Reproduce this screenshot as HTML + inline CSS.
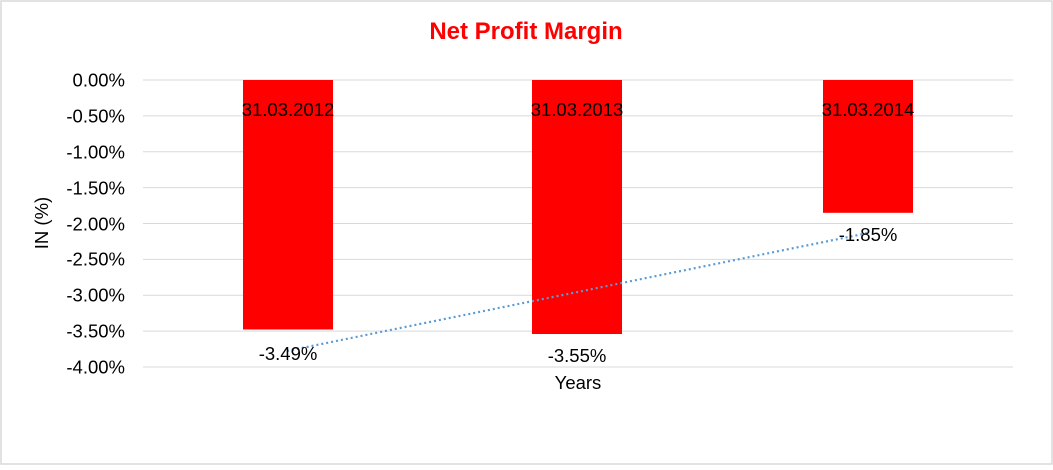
<!DOCTYPE html>
<html><head><style>
body{margin:0;background:#fff;}
svg text{font-family:"Liberation Sans",Arial,sans-serif;}
</style></head><body>
<svg width="1053" height="465" xmlns="http://www.w3.org/2000/svg">
<rect x="1" y="1" width="1051" height="463" fill="#fff" stroke="#d9d9d9" stroke-width="1.5"/>
<text x="526" y="39" text-anchor="middle" font-size="24" font-weight="bold" fill="#ff0000">Net Profit Margin</text>
<g stroke="#d9d9d9" stroke-width="1">
<line x1="143" x2="1013" y1="80" y2="80"/>
<line x1="143" x2="1013" y1="115.9" y2="115.9"/>
<line x1="143" x2="1013" y1="151.8" y2="151.8"/>
<line x1="143" x2="1013" y1="187.6" y2="187.6"/>
<line x1="143" x2="1013" y1="223.5" y2="223.5"/>
<line x1="143" x2="1013" y1="259.4" y2="259.4"/>
<line x1="143" x2="1013" y1="295.3" y2="295.3"/>
<line x1="143" x2="1013" y1="331.1" y2="331.1"/>
<line x1="143" x2="1013" y1="367" y2="367"/>
</g>
<g font-size="18.5" fill="#000" text-anchor="end">
<text x="125" y="86.5">0.00%</text>
<text x="125" y="122.5">-0.50%</text>
<text x="125" y="158.5">-1.00%</text>
<text x="125" y="194.5">-1.50%</text>
<text x="125" y="230.5">-2.00%</text>
<text x="125" y="265.5">-2.50%</text>
<text x="125" y="301.5">-3.00%</text>
<text x="125" y="337.5">-3.50%</text>
<text x="125" y="373.5">-4.00%</text>
</g>
<text transform="translate(48,223) rotate(-90)" font-size="18.5" text-anchor="middle">IN (%)</text>
<rect x="243" y="80" width="90" height="249.5" fill="#ff0000"/>
<rect x="532" y="80" width="90" height="254" fill="#ff0000"/>
<rect x="823" y="80" width="90" height="132.8" fill="#ff0000"/>
<line x1="287" y1="351" x2="868" y2="233" stroke="#5b9bd5" stroke-width="2.2" stroke-dasharray="2,3"/>
<g font-size="18.5" text-anchor="middle" fill="#000">
<text x="288" y="116">31.03.2012</text>
<text x="577" y="116">31.03.2013</text>
<text x="868" y="116">31.03.2014</text>
<text x="288" y="360">-3.49%</text>
<text x="577" y="362">-3.55%</text>
<text x="868" y="241">-1.85%</text>
<text x="578" y="389">Years</text>
</g>
</svg>
</body></html>
